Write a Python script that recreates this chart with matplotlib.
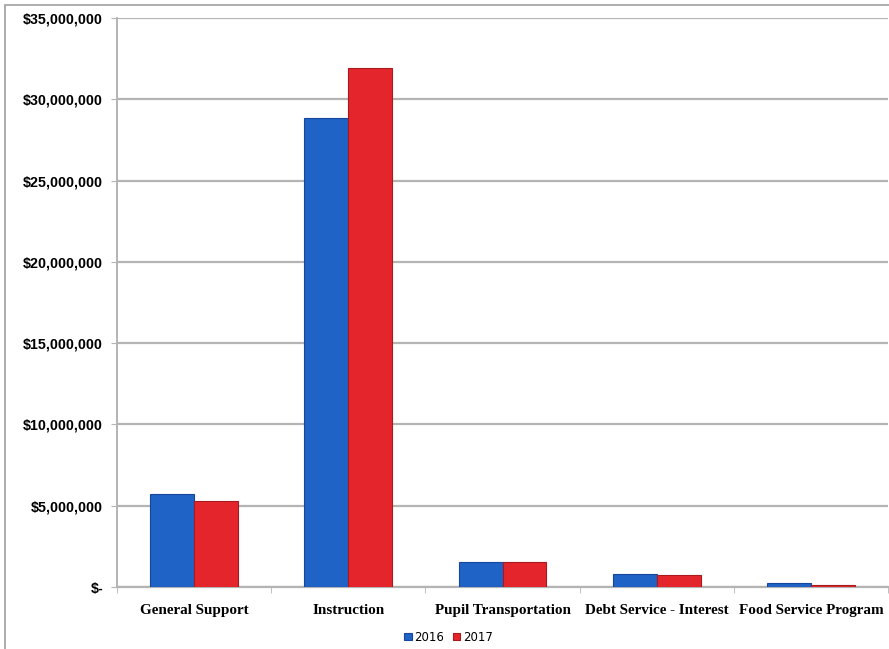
import matplotlib

matplotlib.use("Agg")
import matplotlib.pyplot as plt
import numpy as np
from matplotlib.patches import Rectangle
from matplotlib.ticker import FuncFormatter, FixedLocator

CATEGORIES = ["General Support", "Instruction", "Pupil Transportation",
              "Debt Service - Interest", "Food Service Program"]
VALUES_2016 = [5_720_000, 28_840_000, 1_540_000, 780_000, 230_000]
VALUES_2017 = [5_290_000, 31_920_000, 1_530_000, 720_000, 120_000]
SERIES = ["2016", "2017"]
Y_TICKS = [0, 5e6, 10e6, 15e6, 20e6, 25e6, 30e6, 35e6]

BLUE = "#1f63c6"
RED = "#e4262c"


def money(v, _pos=None):
    if v == 0:
        return "$-"
    return f"${v:,.0f}"


fig = plt.figure(figsize=(8.89, 6.49), dpi=100)
ax = fig.add_axes([117 / 889, 1 - 587 / 649, 771 / 889, 569 / 649])

# outer chart frame
fig.patches.append(Rectangle((5 / 889, -0.01), 0.999, 1 - 5 / 649 + 0.01,
                             transform=fig.transFigure, fill=False,
                             edgecolor="#a0a0a0", lw=1.2))

x = np.arange(len(CATEGORIES))
w = 0.285
ax.bar(x - w / 2, VALUES_2016, w, color=BLUE, edgecolor="#17479a", lw=0.8,
       label=SERIES[0], zorder=3)
ax.bar(x + w / 2, VALUES_2017, w, color=RED, edgecolor="#a81a1e", lw=0.8,
       label=SERIES[1], zorder=3)

ax.set_xlim(-0.5, len(CATEGORIES) - 0.5)
ax.set_ylim(0, 35e6)
ax.yaxis.set_major_locator(FixedLocator(Y_TICKS))
ax.yaxis.set_major_formatter(FuncFormatter(money))
ax.grid(axis="y", color="#b4b4b4", lw=1.6, zorder=0)

for s in ["top", "right"]:
    ax.spines[s].set_visible(False)
ax.spines["left"].set_color("#b4b4b4")
ax.spines["left"].set_linewidth(1.4)
ax.spines["bottom"].set_color("#b4b4b4")
ax.spines["bottom"].set_linewidth(1.6)

ax.set_xticks(x)
ax.set_xticklabels(CATEGORIES, fontfamily="Liberation Serif", fontweight="bold",
                   fontsize=10.9)
ax.tick_params(axis="x", length=0, pad=12)
ax.set_xticks(np.arange(len(CATEGORIES) + 1) - 0.5, minor=True)
ax.tick_params(axis="x", which="minor", length=4, color="#b4b4b4")
ax.tick_params(axis="y", length=4, color="#b4b4b4", pad=6)
for lab in ax.get_yticklabels():
    lab.set_fontfamily("Liberation Sans")
    lab.set_fontweight("bold")
    lab.set_fontsize(10.3)

ax.legend(loc="upper center", bbox_to_anchor=(0.43, -0.058), ncol=2, frameon=False,
          fontsize=8.5, handlelength=0.6, handleheight=0.6, handletextpad=0.2,
          columnspacing=0.8)

fig.savefig("out.png", dpi=100)
